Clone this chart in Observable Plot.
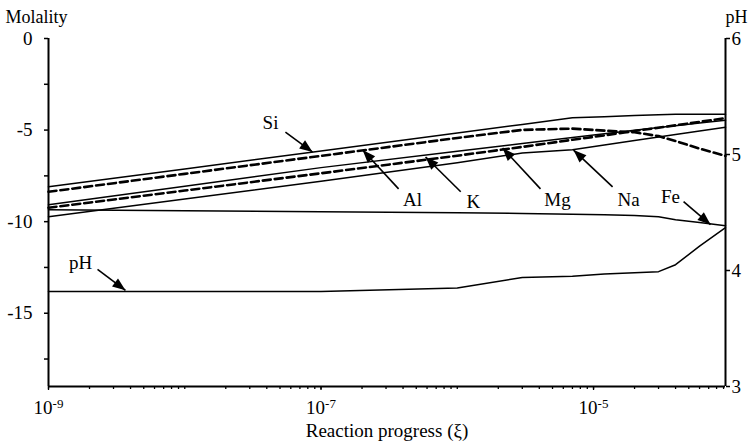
<!DOCTYPE html>
<html><head><meta charset="utf-8">
<script src="https://cdn.jsdelivr.net/npm/d3@7"></script>
<script src="https://cdn.jsdelivr.net/npm/@observablehq/plot@0.6"></script>
<style>html,body{margin:0;padding:0;background:#fff;} svg{display:block}</style>
</head><body><div id="chart"></div>
<script>
// Reaction progress (xi) sample points
const xi = [1e-9, 1e-8, 1e-7, 1e-6, 3e-6, 7e-6, 1.2e-5, 2e-5, 3e-5, 4e-5, 6e-5, 9.3e-5];
// log molality series
const si = [-8.10, -7.12, -6.14, -5.16, -4.69, -4.33, -4.27, -4.21, -4.16, -4.13, -4.13, -4.13];
const al = [-8.37, -7.39, -6.41, -5.43, -4.99, -4.92, -5.03, -5.12, -5.33, -5.60, -6.01, -6.41];
const k  = [-9.08, -8.07, -7.05, -6.15, -5.73, -5.40, -5.20, -5.01, -4.86, -4.76, -4.61, -4.46];
const mg = [-9.24, -8.30, -7.36, -6.40, -5.92, -5.53, -5.29, -5.05, -4.87, -4.74, -4.55, -4.35];
const na = [-9.73, -8.76, -7.79, -6.79, -6.25, -6.07, -5.82, -5.57, -5.38, -5.24, -5.05, -4.84];
const fe = [-9.35, -9.40, -9.46, -9.51, -9.55, -9.59, -9.62, -9.66, -9.73, -9.89, -10.04, -10.22];
// pH (right axis)
const ph = [3.82, 3.82, 3.82, 3.85, 3.94, 3.95, 3.97, 3.98, 3.99, 4.05, 4.21, 4.37];

// axes
const xDomain = [1e-9, 9.3e-5];
const molalityDomain = [-19, 0];
const phDomain = [3, 6];
const molalityTicks = [0, -2.5, -5, -7.5, -10, -12.5, -15, -17.5];
const molalityLabels = [0, -5, -10, -15];
const phTicks = [3, 4, 5, 6];
const xLabelledTicks = [1e-9, 1e-7, 1e-5];

// annotations (label, text position, arrow start, arrow tip)
const annNames   = ["Si", "Al", "K", "Mg", "Na", "Fe", "pH"];
const annTextXi  = [4.26e-8, 4.70e-7, 1.31e-6, 5.44e-6, 1.81e-5, 3.67e-5, 1.72e-9];
const annTextM   = [-4.62, -8.80, -8.91, -8.80, -8.80, -8.64, -12.23];
const annFromXi  = [5.48e-8, 3.71e-7, 1.06e-6, 4.08e-6, 1.38e-5, 4.58e-5, 2.29e-9];
const annFromM   = [-5.11, -8.21, -8.37, -8.21, -8.10, -8.91, -12.61];
const annTipXi   = [8.67e-8, 2.02e-7, 5.85e-7, 2.15e-6, 7.13e-6, 7.22e-5, 3.67e-9];
const annTipM    = [-6.20, -6.09, -6.47, -5.98, -6.09, -10.16, -13.75];

// ---- build ----
const W = 750, H = 445, mL = 48, mR = 25, mT = 38, mB = 59;
const phToM = p => molalityDomain[0] + (p - phDomain[0]) / (phDomain[1] - phDomain[0]) * (molalityDomain[1] - molalityDomain[0]);
const mToPh = m => phDomain[0] + (m - molalityDomain[0]) / (molalityDomain[1] - molalityDomain[0]) * (phDomain[1] - phDomain[0]);

const solid = [];
const dashed = [];
[["Si", si, solid], ["Al", al, dashed], ["K", k, solid], ["Mg", mg, dashed], ["Na", na, solid], ["Fe", fe, solid]]
  .forEach(([name, vals, arr]) => vals.forEach((v, i) => arr.push({name, xi: xi[i], m: v})));
const phData = ph.map((p, i) => ({xi: xi[i], m: phToM(p)}));

const sx = Plot.scale({x: {type: "log", domain: xDomain, range: [mL, W - mR]}});
const sy = Plot.scale({y: {type: "linear", domain: molalityDomain, range: [H - mB, mT]}});

const ann = annNames.map((n, i) => {
  const dx = sx.apply(annTipXi[i]) - sx.apply(annFromXi[i]);
  const dy = sy.apply(annTipM[i]) - sy.apply(annFromM[i]);
  return {name: n, tx: annTextXi[i], ty: annTextM[i], fx: annFromXi[i], fy: annFromM[i],
          px: annTipXi[i], py: annTipM[i], angle: Math.atan2(dx, -dy) * 180 / Math.PI};
});

const headSymbol = {
  draw(context) {
    context.moveTo(0, 0);
    context.lineTo(-5, 13);
    context.lineTo(5, 13);
    context.closePath();
  }
};

const minorX = [];
for (let e = -9; e <= -5; e++) for (let m = 1; m <= 9; m++) {
  const v = m * Math.pow(10, e);
  if (v <= xDomain[1] * 1.0001) minorX.push(+v.toPrecision(3));
}

const plot = Plot.plot({
  width: W, height: H,
  marginLeft: mL, marginRight: mR, marginTop: mT, marginBottom: mB,
  style: {fontFamily: "'Liberation Serif', 'Times New Roman', serif", fontSize: "19px", background: "#fff", color: "#000"},
  x: {type: "log", domain: xDomain},
  y: {domain: molalityDomain},
  marks: [
    Plot.axisX(minorX, {anchor: "bottom", tickSize: 3, tickFormat: () => "", strokeWidth: 1.3}),
    Plot.axisX(xLabelledTicks, {anchor: "bottom", tickSize: 4, tickPadding: 10, strokeWidth: 1.3,
      tickFormat: d => "10^" + Math.round(Math.log10(d))}),
    Plot.axisY(molalityTicks, {anchor: "left", tickSize: 4, tickPadding: 12, strokeWidth: 1.5,
      tickFormat: d => molalityLabels.includes(d) ? String(d) : ""}),
    Plot.axisY(phTicks.map(phToM), {anchor: "right", tickSize: 4, tickPadding: 2, strokeWidth: 1.5,
      tickFormat: d => String(Math.round(mToPh(d)))}),
    Plot.ruleX([xDomain[0]], {stroke: "#000", strokeWidth: 2}),
    Plot.ruleX([xDomain[1]], {stroke: "#000", strokeWidth: 2}),
    Plot.ruleY([molalityDomain[0]], {stroke: "#000", strokeWidth: 2}),
    Plot.line(solid, {x: "xi", y: "m", z: "name", stroke: "#000", strokeWidth: 1.5}),
    Plot.line(dashed, {x: "xi", y: "m", z: "name", stroke: "#000", strokeWidth: 2.6, strokeDasharray: "8,4"}),
    Plot.line(phData, {x: "xi", y: "m", stroke: "#000", strokeWidth: 1.5}),
    Plot.link(ann, {x1: "fx", y1: "fy", x2: "px", y2: "py", stroke: "#000", strokeWidth: 1.6}),
    Plot.dot(ann, {x: "px", y: "py", symbol: headSymbol, rotate: "angle", fill: "#000", stroke: "none", r: 5}),
    Plot.text(ann, {x: "tx", y: "ty", text: "name", fill: "#000", fontSize: 19}),
    Plot.text(["Molality"], {frameAnchor: "top-left", textAnchor: "start", dx: -43, dy: -28, fill: "#000", fontSize: 18}),
    Plot.text(["pH"], {frameAnchor: "top-right", textAnchor: "start", dx: 0, dy: -28, fill: "#000", fontSize: 18}),
    Plot.text(["Reaction progress (ξ)"], {frameAnchor: "bottom", dy: 50, fill: "#000", fontSize: 19})
  ]
});

// superscript exponents on the x tick labels
plot.querySelectorAll("text").forEach(t => {
  const s = t.textContent;
  if (/^10\^/.test(s)) {
    const exp = s.slice(3);
    t.textContent = "10";
    const ts = document.createElementNS("http://www.w3.org/2000/svg", "tspan");
    ts.setAttribute("dy", "-0.45em");
    ts.setAttribute("font-size", "13");
    ts.textContent = exp;
    t.appendChild(ts);
  }
});

document.getElementById("chart").appendChild(plot);
</script>
</body></html>
